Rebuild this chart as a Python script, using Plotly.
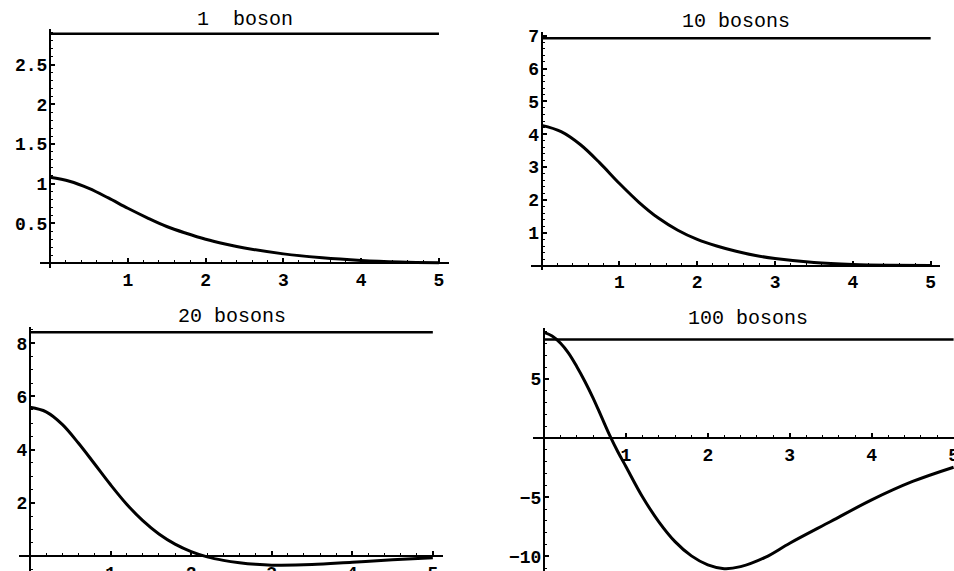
import plotly.graph_objects as go

# ---------------- data ----------------
titles = ["1\u00a0 boson", "10 bosons", "20 bosons", "100 bosons"]

x_1 = [0, 0.25, 0.5, 0.75, 1, 1.25, 1.5, 1.75, 2, 2.25, 2.5, 3, 3.5, 4, 4.5, 5]
y_1 = [1.08, 1.03, 0.94, 0.82, 0.69, 0.57, 0.46, 0.375, 0.30, 0.24, 0.19, 0.115, 0.065, 0.033, 0.014, 0.004]

x_2 = [0, 0.25, 0.5, 0.75, 1, 1.25, 1.5, 1.75, 2, 2.25, 2.5, 2.75, 3, 3.5, 4, 4.5, 5]
y_2 = [4.27, 4.08, 3.68, 3.12, 2.5, 1.93, 1.45, 1.08, 0.8, 0.6, 0.44, 0.31, 0.22, 0.1, 0.04, 0.015, 0.005]

x_3 = [0, 0.2, 0.4, 0.6, 0.8, 1.0, 1.2, 1.4, 1.6, 1.8, 2.0, 2.2, 2.4, 2.6, 2.8, 3.0, 3.5, 4.0, 4.5, 5.0]
y_3 = [5.59, 5.42, 4.95, 4.25, 3.47, 2.68, 1.95, 1.33, 0.83, 0.45, 0.17, -0.03, -0.16, -0.25, -0.31, -0.34, -0.32, -0.23, -0.14, -0.06]

x_4 = [0, 0.1, 0.2, 0.3, 0.4, 0.5, 0.6, 0.7, 0.8, 0.9, 1.0, 1.2, 1.4, 1.6, 1.8, 2.0, 2.2, 2.4, 2.7, 3.0, 3.5, 4.0, 4.5, 5.0]
y_4 = [8.95, 8.65, 8.05, 7.2, 6.07, 4.8, 3.39, 1.84, 0.28, -1.13, -2.4, -4.94, -7.06, -8.76, -9.97, -10.73, -11.05, -10.88, -10.1, -8.9, -7.06, -5.23, -3.67, -2.46]

flat_x = [0, 5]
flat_levels = [2.89, 6.92, 8.41, 8.36]

x_ticks = [1, 2, 3, 4, 5]
y_ticks_1 = [0.5, 1, 1.5, 2, 2.5]
y_ticks_2 = [1, 2, 3, 4, 5, 6, 7]
y_ticks_3 = [2, 4, 6, 8]
y_ticks_4 = [-10, -5, 5]

# ---------------- layout geometry ----------------
W, H = 954, 571
# panel boxes in pixels: (left, right, top, bottom)
boxes = [(40, 449, 29, 268), (531, 940, 31.7, 270), (19.3, 443.3, 326.7, 571), (533.3, 954, 328.3, 571)]
x_ranges = [[-0.129, 5.129], [-0.137, 5.12], [-0.133, 5.13], [-0.13, 5.005]]
y_ranges = [[-0.063, 2.95], [-0.13, 7.12], [-0.56, 8.62], [-11.25, 9.3]]
y_minor = [0.1, 0.2, 0.5, 1]
title_pos = [(245, 19), (736, 21.7), (231.5, 316), (748, 318.3)]

xs = [x_1, x_2, x_3, x_4]
ys = [y_1, y_2, y_3, y_4]
y_ticks = [y_ticks_1, y_ticks_2, y_ticks_3, y_ticks_4]

tick_font = dict(family="Liberation Mono", size=18, color="black", weight="bold")
title_font = dict(family="Liberation Mono", size=20, color="black", weight="normal")

fig = go.Figure()
layout = dict(
    template="none",
    width=W, height=H, autosize=False,
    margin=dict(l=0, r=0, t=0, b=0, pad=0, autoexpand=False),
    paper_bgcolor="white", plot_bgcolor="white", showlegend=False,
    font=dict(family="Liberation Mono", size=18, color="black"),
)
annotations = []

for i in range(4):
    n = "" if i == 0 else str(i + 1)
    L, R, T, B = boxes[i]
    xd = [L / W, R / W]
    yd = [1 - B / H, 1 - T / H]
    xr, yr = x_ranges[i], y_ranges[i]
    ypos_of_xaxis = yd[0] + (0 - yr[0]) / (yr[1] - yr[0]) * (yd[1] - yd[0])
    xpos_of_yaxis = xd[0] + (0 - xr[0]) / (xr[1] - xr[0]) * (xd[1] - xd[0])

    fig.add_trace(go.Scatter(x=xs[i], y=ys[i], mode="lines",
                             line=dict(color="black", width=3, shape="spline", smoothing=1.0),
                             xaxis="x" + n, yaxis="y" + n, hoverinfo="skip"))
    fig.add_trace(go.Scatter(x=flat_x, y=[flat_levels[i]] * 2, mode="lines",
                             line=dict(color="black", width=2.5),
                             xaxis="x" + n, yaxis="y" + n, hoverinfo="skip"))

    layout["xaxis" + n] = dict(
        domain=xd, range=xr, anchor="free", position=ypos_of_xaxis, automargin=False,
        showgrid=False, zeroline=False, showline=True, linecolor="black", linewidth=2,
        tickmode="array", tickvals=x_ticks, ticktext=[str(v) for v in x_ticks],
        ticks="inside", ticklen=4, tickwidth=1.5, tickcolor="black",
        minor=dict(tickmode="linear", tick0=0, dtick=0.2, ticks="inside", ticklen=2,
                   tickwidth=1, tickcolor="black", showgrid=False),
        tickfont=tick_font, ticklabelstandoff=0, ticklabeloverflow="allow", fixedrange=True,
    )
    layout["yaxis" + n] = dict(
        domain=yd, range=yr, anchor="free", position=xpos_of_yaxis, automargin=False,
        showgrid=False, zeroline=False, showline=True, linecolor="black", linewidth=2,
        tickmode="array", tickvals=y_ticks[i], ticktext=[("%g" % v).replace("-", "\u2212") for v in y_ticks[i]],
        ticks="inside", ticklen=4, tickwidth=1.5, tickcolor="black",
        minor=dict(tickmode="linear", tick0=0, dtick=y_minor[i], ticks="inside", ticklen=2,
                   tickwidth=1, tickcolor="black", showgrid=False),
        tickfont=tick_font, ticklabelstandoff=-2, ticklabeloverflow="allow", fixedrange=True,
    )
    tx, ty = title_pos[i]
    annotations.append(dict(text=titles[i], x=tx / W, y=1 - ty / H, xref="paper", yref="paper",
                            xanchor="center", yanchor="middle", showarrow=False, font=title_font))

layout["annotations"] = annotations
fig.update_layout(**layout)
fig.write_html("out.html", config={"displayModeBar": False},
               post_script="document.body.style.margin='0';document.body.style.overflow='hidden';")
